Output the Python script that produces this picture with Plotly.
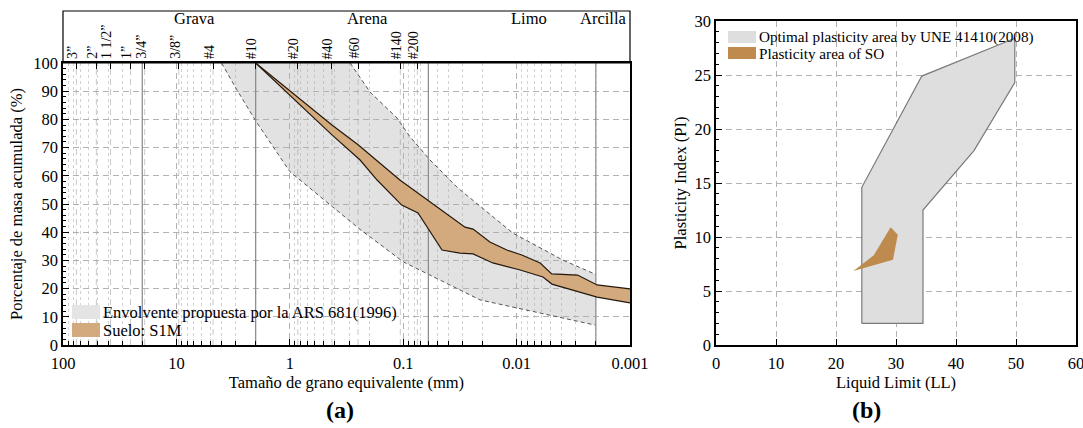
import numpy as np
import plotly.graph_objects as go

# ---------------- data: panel (a) grain size ----------------
env_upper_size = [0.294, 0.196, 0.1135, 0.087, 0.058, 0.033, 0.0108, 0.0039, 0.002]
env_upper_pct = [100, 89.7, 80.5, 73.8, 65.6, 55.7, 39.7, 30.1, 25.0]
env_lower_size = [4.0, 2.92, 2.0, 1.0, 0.42, 0.24, 0.1, 0.021, 0.002]
env_lower_pct = [100, 90.4, 79.5, 61.5, 49.0, 41.0, 29.5, 16.0, 7.0]

s1m_upper_size = [2.0, 0.85, 0.425, 0.25, 0.107, 0.0285, 0.0242, 0.0172, 0.0122, 0.009, 0.0062, 0.0049, 0.0029, 0.00195, 0.001]
s1m_upper_pct = [100, 88, 78, 71, 58.5, 41.8, 41.1, 36.5, 33.7, 31.9, 29.1, 25.2, 24.8, 21.3, 19.9]
s1m_lower_size = [2.0, 0.85, 0.425, 0.24, 0.17, 0.103, 0.074, 0.0455, 0.0316, 0.0242, 0.0162, 0.0093, 0.00585, 0.00488, 0.00195, 0.001]
s1m_lower_pct = [100, 86, 74.5, 65.6, 58.5, 49.6, 46.8, 33.7, 32.6, 32.3, 29.1, 26.6, 24.1, 21.6, 17.0, 14.9]

sieve_sizes = [76.2, 50.8, 38.1, 25.4, 19.05, 9.525, 4.75, 2.0, 0.85, 0.425, 0.25, 0.106, 0.075]
sieve_labels = ['3”', '2”', '1 1/2”', '1”', '3/4”', '3/8”', '#4', '#10', '#20', '#40', '#60', '#140', '#200']
boundary_sizes = [20, 2, 0.06, 0.002]
soil_names = ['Grava', 'Arena', 'Limo', 'Arcilla']
soil_label_pos = [6.9, 0.205, 0.00775, 0.00174]

x_major = [100, 10, 1, 0.1, 0.01, 0.001]
x_major_text = ['100', '10', '1', '0.1', '0.01', '0.001']

legend_a_names = ['Envolvente propuesta por la ARS 681(1996)', 'Suelo: S1M']
legend_b_names = ['Optimal plasticity area by UNE 41410(2008)', 'Plasticity area of SO']

# ---------------- data: panel (b) plasticity ----------------
une_ll = [24.3, 24.3, 34.3, 49.8, 49.8, 43.0, 34.5, 34.5, 24.3]
une_pi = [2.0, 14.6, 24.9, 28.4, 24.3, 18.0, 12.5, 2.0, 2.0]
so_ll = [22.9, 26.3, 29.1, 30.3, 29.5, 22.9]
so_pi = [6.85, 8.3, 10.9, 10.2, 7.9, 6.85]

FONT = "Liberation Serif"
W, H = 1083, 428

GRAY_A = 'rgba(175,175,175,0.36)'
GRAY_A_SWATCH = 'rgb(228,228,228)'
BROWN_A = 'rgb(211,170,125)'
GRAY_B = 'rgb(222,222,222)'
BROWN_B = 'rgb(190,138,78)'


def px(x):
    return x / W


def py(y):
    return (H - y) / H


fig = go.Figure()

# envelope fill
fig.add_trace(go.Scatter(
    x=env_lower_size + env_upper_size[::-1] + [env_lower_size[0]],
    y=env_lower_pct + env_upper_pct[::-1] + [env_lower_pct[0]],
    fill='toself', fillcolor=GRAY_A, mode='lines', line=dict(width=0),
    name=legend_a_names[0], showlegend=False, hoverinfo='skip'))
# envelope dashed edges
for xs, ys in [(env_upper_size, env_upper_pct), (env_lower_size, env_lower_pct)]:
    fig.add_trace(go.Scatter(x=xs, y=ys, mode='lines',
                             line=dict(color='#555555', width=1, dash='4px,3px'),
                             showlegend=False, hoverinfo='skip'))

# sieve dashed lines and boundary solid lines
sx, sy = [], []
for s in sieve_sizes:
    sx += [s, s, None]
    sy += [0, 100, None]
fig.add_trace(go.Scatter(x=sx, y=sy, mode='lines', line=dict(color='rgba(150,150,150,0.5)', width=1, dash='6px,4px'),
                         showlegend=False, hoverinfo='skip'))
bx, by = [], []
for s in boundary_sizes:
    bx += [s, s, None]
    by += [0, 100, None]
fig.add_trace(go.Scatter(x=bx, y=by, mode='lines', line=dict(color='#8a8a8a', width=1.2),
                         showlegend=False, hoverinfo='skip'))

# S1M band
fig.add_trace(go.Scatter(
    x=s1m_upper_size + s1m_lower_size[::-1],
    y=s1m_upper_pct + s1m_lower_pct[::-1],
    fill='toself', fillcolor=BROWN_A, mode='lines', line=dict(width=0),
    name=legend_a_names[1], showlegend=False, hoverinfo='skip'))
for xs, ys in [(s1m_upper_size, s1m_upper_pct), (s1m_lower_size, s1m_lower_pct)]:
    fig.add_trace(go.Scatter(x=xs, y=ys, mode='lines', line=dict(color='#24180c', width=1.2),
                             showlegend=False, hoverinfo='skip'))

# invisible trace for top sieve ticks axis
fig.add_trace(go.Scatter(x=[1], y=[50], xaxis='x3', yaxis='y', mode='markers',
                         marker=dict(opacity=0), showlegend=False, hoverinfo='skip'))

# panel (b)
fig.add_trace(go.Scatter(x=une_ll, y=une_pi, xaxis='x2', yaxis='y2', fill='toself',
                         fillcolor=GRAY_B, mode='lines', line=dict(color='#7a7a7a', width=1.2),
                         name=legend_b_names[0], showlegend=False, hoverinfo='skip'))
fig.add_trace(go.Scatter(x=so_ll, y=so_pi, xaxis='x2', yaxis='y2', fill='toself',
                         fillcolor=BROWN_B, mode='lines', line=dict(width=0),
                         name=legend_b_names[1], showlegend=False, hoverinfo='skip'))

minor_vals = [m * 10.0 ** k for k in range(-3, 2) for m in range(2, 10)]

TICK_SIZE = 16.5
tickfont = dict(family=FONT, size=TICK_SIZE, color='black')
titlefont = dict(family=FONT, size=16.5, color='black')
grid_major = dict(showgrid=True, gridcolor='rgb(178,178,178)', griddash='6px,4px', gridwidth=1)
common = dict(showline=True, linecolor='black', linewidth=1.5, mirror=True, zeroline=False,
              automargin=False, ticks='inside', ticklen=6, tickcolor='black', tickfont=tickfont,
              ticklabeloverflow='allow')

annotations = []
shapes = []
for s, lab in zip(sieve_sizes, sieve_labels):
    annotations.append(dict(x=np.log10(s), xref='x', y=py(61), yref='paper', text=lab,
                            textangle=-90, showarrow=False, xanchor='center', yanchor='bottom',
                            xshift=-4, font=dict(family=FONT, size=14, color='black')))
for name, pos in zip(soil_names, soil_label_pos):
    annotations.append(dict(x=np.log10(pos), xref='x', y=py(19), yref='paper', text=name,
                            showarrow=False, xanchor='center', yanchor='middle',
                            font=dict(family=FONT, size=16.5, color='black')))
annotations.append(dict(x=px(340), y=py(410), xref='paper', yref='paper', text='<b>(a)</b>',
                        showarrow=False, xanchor='center', yanchor='middle',
                        font=dict(family=FONT, size=24, color='black')))
annotations.append(dict(x=px(866), y=py(410), xref='paper', yref='paper', text='<b>(b)</b>',
                        showarrow=False, xanchor='center', yanchor='middle',
                        font=dict(family=FONT, size=24, color='black')))

# legends (swatch + text), panel (a)
for i, (name, col) in enumerate(zip(legend_a_names, [GRAY_A_SWATCH, BROWN_A])):
    y0 = 305 + i * 18
    shapes.append(dict(type='rect', xref='paper', yref='paper', x0=px(72), x1=px(100),
                       y0=py(y0 + 14), y1=py(y0), fillcolor=col, line=dict(width=0), layer='above'))
    annotations.append(dict(x=px(101), y=py(y0 + 7), xref='paper', yref='paper', text=name,
                            showarrow=False, xanchor='left', yanchor='middle',
                            font=dict(family=FONT, size=16.5, color='black')))
# legends panel (b)
for i, (name, col) in enumerate(zip(legend_b_names, [GRAY_B, BROWN_B])):
    y0 = 31 + i * 16
    shapes.append(dict(type='rect', xref='paper', yref='paper', x0=px(728), x1=px(756),
                       y0=py(y0 + 12), y1=py(y0), fillcolor=col, line=dict(width=0), layer='above'))
    annotations.append(dict(x=px(757), y=py(y0 + 6), xref='paper', yref='paper', text=name,
                            showarrow=False, xanchor='left', yanchor='middle',
                            font=dict(family=FONT, size=15.2, color='black')))

shapes.append(dict(type='rect', xref='paper', yref='paper', x0=px(63), x1=px(630), y0=py(63), y1=py(11),
                   line=dict(color='black', width=1.2), layer='above'))

fig.update_layout(
    width=W, height=H, margin=dict(l=0, r=0, t=0, b=0),
    paper_bgcolor='white', plot_bgcolor='white',
    font=dict(family=FONT, size=15, color='black'),
    showlegend=False,
    xaxis=dict(type='log', range=[2, -3], domain=[px(63), px(630)], anchor='y',
               tickvals=x_major, ticktext=x_major_text, ticklabelstandoff=2, **common, **grid_major,
               minor=dict(tickvals=minor_vals, ticks='inside', ticklen=4, tickcolor='black',
                          showgrid=True, gridcolor='rgb(210,210,210)', griddash='dot', gridwidth=1),
               title=dict(text='Tamaño de grano equivalente (mm)', font=titlefont, standoff=5)),
    yaxis=dict(range=[0, 100], domain=[py(345), py(63)], anchor='x', dtick=10, tick0=0,
               **common, **grid_major,
               minor=dict(dtick=2, ticks='inside', ticklen=3, tickcolor='black', showgrid=False),
               title=dict(text='Porcentaje de masa acumulada (%)', font=titlefont, standoff=6)),
    xaxis3=dict(type='log', range=[2, -3], overlaying='x', side='top', anchor='y',
                tickvals=sieve_sizes, ticks='inside', ticklen=6, tickcolor='black', automargin=False,
                showticklabels=False, showgrid=False, showline=False, zeroline=False),
    xaxis2=dict(range=[0, 60], domain=[px(716), px(1076)], anchor='y2', dtick=10, tick0=0,
                ticklabelstandoff=2, **common, **grid_major,
                title=dict(text='Liquid Limit (LL)', font=titlefont, standoff=5)),
    yaxis2=dict(range=[0, 30], domain=[py(345), py(21)], anchor='x2', dtick=5, tick0=0,
                **common, **grid_major,
                minor=dict(dtick=1, ticks='inside', ticklen=3, tickcolor='black', showgrid=False),
                title=dict(text='Plasticity Index (PI)', font=titlefont, standoff=4)),
    shapes=shapes,
    annotations=annotations,
)

fig.write_html("out.html")
